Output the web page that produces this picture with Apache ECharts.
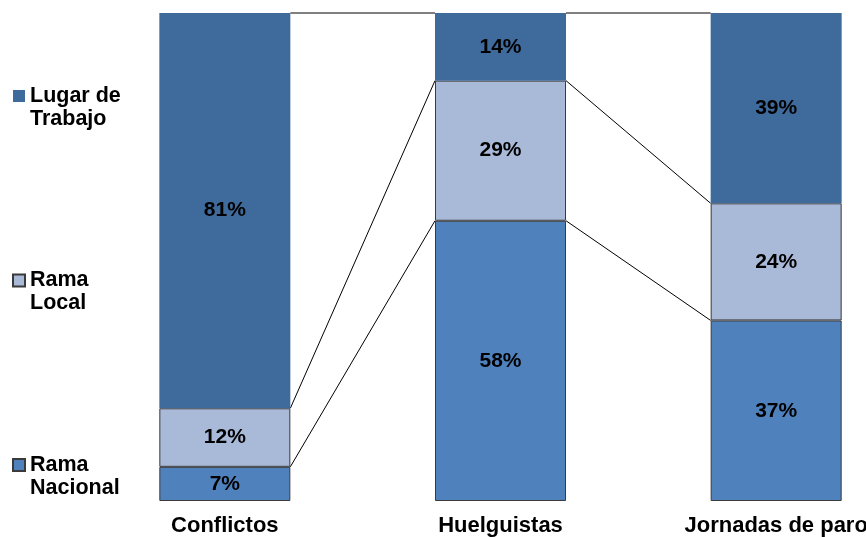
<!DOCTYPE html>
<html>
<head>
<meta charset="utf-8">
<script src="https://cdn.jsdelivr.net/npm/echarts@6/dist/echarts.min.js"></script>
<style>html,body{margin:0;padding:0;background:#fff;overflow:hidden}#c{width:914px;height:537px}</style>
</head>
<body>
<div id="c"></div>
<script>
const categories = ['Conflictos', 'Huelguistas', 'Jornadas de paro'];
const ramaNacional = [7, 58, 37];
const ramaLocal = [12, 29, 24];
const lugarTrabajo = [81, 14, 39];
const seriesNames = ['Rama Nacional', 'Rama Local', 'Lugar de Trabajo'];
const legendLabels = {
  'Lugar de Trabajo': 'Lugar de\nTrabajo',
  'Rama Local': 'Rama\nLocal',
  'Rama Nacional': 'Rama\nNacional'
};

const raw = [ramaNacional, ramaLocal, lugarTrabajo];
const totals = categories.map((_, i) => raw.reduce((s, a) => s + a[i], 0));
const norm = raw.map(a => a.map((v, i) => v / totals[i] * 100));
const cum = norm.map((_, k) => categories.map((_, i) => norm.slice(0, k + 1).reduce((s, a) => s + a[i], 0)));
const connData = [];
for (let i = 0; i < categories.length - 1; i++) {
  for (let k = 0; k < cum.length; k++) connData.push([i, cum[k][i], cum[k][i + 1]]);
}

const BAR_W = 131;
const colors = ['#4F81BD', '#A9B9D8', '#3F6A9C'];
const font = '"Liberation Sans", Arial, sans-serif';

const chart = echarts.init(document.getElementById('c'));
const barSeries = raw.map((arr, k) => ({
  name: seriesNames[k],
  type: 'bar',
  stack: 'total',
  barWidth: BAR_W,
  data: norm[k],
  itemStyle: {
    color: colors[k],
    borderColor: k === 2 ? colors[k] : '#3a3a3a',
    borderWidth: k === 2 ? 0 : 1
  },
  label: {
    show: true,
    position: 'inside',
    color: '#000',
    fontFamily: font,
    fontWeight: 'bold',
    fontSize: 21,
    formatter: p => arr[p.dataIndex] + '%'
  },
  emphasis: { disabled: true }
}));

chart.setOption({
  animation: false,
  grid: { left: 87, top: 13, bottom: 36, right: 0 },
  legend: {
    orient: 'vertical',
    left: 12,
    top: 61.5,
    padding: 0,
    itemGap: 115.5,
    itemWidth: 12,
    itemHeight: 12,
    icon: 'rect',
    selectedMode: false,
    data: ['Lugar de Trabajo', 'Rama Local', 'Rama Nacional'],
    formatter: n => '\n' + legendLabels[n],
    textStyle: {
      fontFamily: font,
      fontWeight: 'bold',
      fontSize: 21.5,
      color: '#000',
      lineHeight: 23
    }
  },
  xAxis: {
    type: 'category',
    data: categories,
    axisLine: { show: false },
    axisTick: { show: false },
    axisLabel: {
      color: '#000',
      fontFamily: font,
      fontWeight: 'bold',
      fontSize: 22,
      margin: 14
    }
  },
  yAxis: { type: 'value', min: 0, max: 100, show: false },
  series: barSeries.concat([{
    type: 'custom',
    silent: true,
    data: connData,
    encode: { x: 0, y: 1 },
    z: 1,
    renderItem: (params, api) => {
      const i = api.value(0);
      const p1 = api.coord([i, api.value(1)]);
      const p2 = api.coord([i + 1, api.value(2)]);
      return {
        type: 'line',
        shape: { x1: p1[0] + BAR_W / 2, y1: p1[1], x2: p2[0] - BAR_W / 2, y2: p2[1] },
        style: { stroke: '#000', lineWidth: 1 }
      };
    }
  }])
});
</script>
</body>
</html>
